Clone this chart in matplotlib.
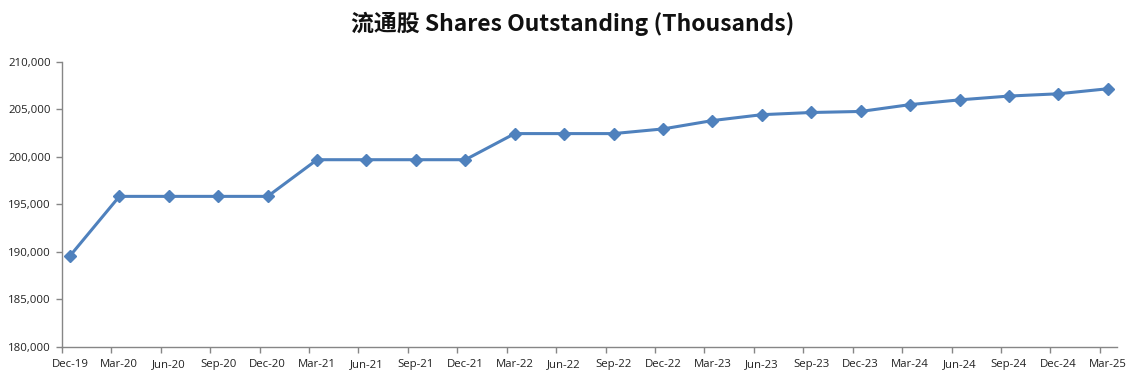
import matplotlib
matplotlib.use("Agg")
import matplotlib.pyplot as plt
from matplotlib.ticker import FuncFormatter, FixedLocator
import numpy as np

categories = ["Dec-19", "Mar-20", "Jun-20", "Sep-20", "Dec-20", "Mar-21", "Jun-21", "Sep-21",
              "Dec-21", "Mar-22", "Jun-22", "Sep-22", "Dec-22", "Mar-23", "Jun-23", "Sep-23",
              "Dec-23", "Mar-24", "Jun-24", "Sep-24", "Dec-24", "Mar-25"]
shares = [189550, 195820, 195820, 195820, 195820, 199680, 199680, 199680,
          199680, 202430, 202430, 202430, 202920, 203800, 204420, 204650,
          204760, 205480, 205980, 206380, 206620, 207150]
yticks = [180000, 185000, 190000, 195000, 200000, 205000, 210000]

fig = plt.figure(figsize=(11.45, 3.85), dpi=100)
ax = fig.add_axes([0.0541, 0.0996, 0.9212, 0.7402])

x = np.arange(len(categories))
ax.plot(x, shares, color="#4F81BD", linewidth=2.2, marker="D", markersize=6.5,
        markerfacecolor="#4F81BD", markeredgecolor="#4F81BD")

ax.set_ylim(180000, 210000)
ax.set_xlim(-0.162, len(categories) - 1 + 0.18)
ax.set_yticks(yticks)
ax.yaxis.set_major_formatter(FuncFormatter(lambda v, p: f"{int(v):,}"))

off = 0.162
ax.xaxis.set_major_locator(FixedLocator(x - off))
ax.xaxis.set_major_formatter(FuncFormatter(lambda v, p: ""))
ax.xaxis.set_minor_locator(FixedLocator(x))
ax.set_xticklabels(categories, minor=True)
ax.tick_params(axis="x", which="minor", length=0, pad=9)
ax.tick_params(axis="x", which="major", length=4, direction="out", color="#868686", width=1)
ax.tick_params(axis="y", length=4, direction="out", color="#868686", width=1, pad=4)

for lab in ax.get_xticklabels(minor=True) + ax.get_yticklabels():
    lab.set_fontfamily(["Open Sans", "DejaVu Sans"])
    lab.set_fontsize(8.2)
    lab.set_color("#222222")

for s in ["top", "right"]:
    ax.spines[s].set_visible(False)
for s in ["left", "bottom"]:
    ax.spines[s].set_color("#868686")
    ax.spines[s].set_linewidth(1)

fig.text(0.5, 0.937, "流通股 Shares Outstanding (Thousands)", ha="center", va="center",
         fontsize=16.5, fontweight="bold", family=["Noto Sans CJK SC", "DejaVu Sans"], color="#111111")

fig.savefig("out.png", dpi=100)
